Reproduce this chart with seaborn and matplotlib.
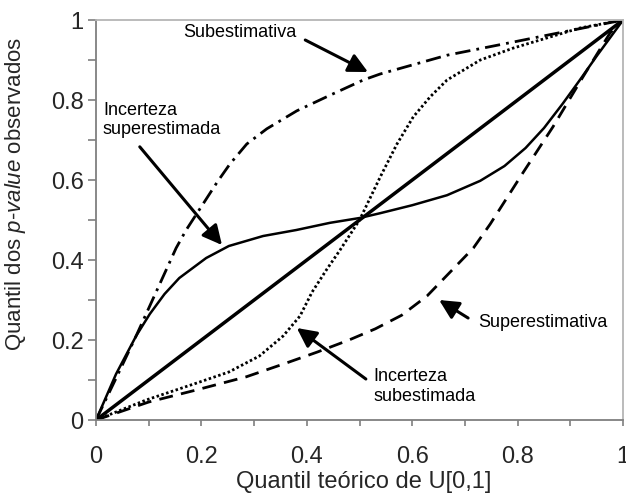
import matplotlib
matplotlib.use("Agg")
import matplotlib.pyplot as plt
import seaborn as sns
import numpy as np

# ---- data ----
diag_x = [0.0, 1.0]
diag_y = [0.0, 1.0]

sub_x = [0.0, 0.04, 0.076, 0.114, 0.152, 0.171, 0.203, 0.23, 0.254, 0.286, 0.324, 0.381, 0.444, 0.507, 0.539, 0.666, 0.792, 0.886, 1.0]
sub_y = [0.0, 0.11, 0.21, 0.32, 0.43, 0.475, 0.54, 0.595, 0.64, 0.69, 0.728, 0.773, 0.812, 0.85, 0.865, 0.912, 0.945, 0.97, 1.0]

sup_x = [0.0, 0.1, 0.19, 0.285, 0.36, 0.42, 0.48, 0.53, 0.58, 0.628, 0.672, 0.716, 0.748, 0.81, 0.867, 0.924, 0.975, 1.0]
sup_y = [0.0, 0.045, 0.075, 0.108, 0.142, 0.17, 0.2, 0.228, 0.262, 0.31, 0.37, 0.43, 0.49, 0.618, 0.733, 0.858, 0.967, 1.0]

isub_x = [0.0, 0.095, 0.19, 0.252, 0.31, 0.355, 0.387, 0.41, 0.437, 0.463, 0.5, 0.539, 0.571, 0.602, 0.634, 0.666, 0.729, 0.792, 0.855, 0.918, 1.0]
isub_y = [0.0, 0.05, 0.092, 0.12, 0.16, 0.21, 0.26, 0.32, 0.375, 0.425, 0.5, 0.607, 0.69, 0.758, 0.808, 0.85, 0.9, 0.93, 0.955, 0.98, 1.0]

isup_x = [0.0, 0.038, 0.076, 0.102, 0.13, 0.158, 0.209, 0.252, 0.317, 0.38, 0.444, 0.5, 0.539, 0.6, 0.666, 0.729, 0.775, 0.815, 0.85, 0.885, 0.918, 0.95, 0.975, 1.0]
isup_y = [0.0, 0.115, 0.21, 0.265, 0.315, 0.355, 0.405, 0.435, 0.46, 0.475, 0.493, 0.505, 0.517, 0.537, 0.562, 0.598, 0.635, 0.68, 0.73, 0.79, 0.85, 0.91, 0.955, 1.0]

ticks = [0, 0.2, 0.4, 0.6, 0.8, 1]
tick_labels = ["0", "0.2", "0.4", "0.6", "0.8", "1"]

xlabel = "Quantil teórico de U[0,1]"
ylabel = "Quantil dos $p$-$value$ observados"

ann_text = ["Subestimativa", "Incerteza\nsuperestimada", "Superestimativa", "Incerteza\nsubestimada"]

sns.set_theme(style="white")
plt.rcParams["font.family"] = ["Liberation Sans", "DejaVu Sans"]
plt.rcParams["mathtext.fontset"] = "custom"
plt.rcParams["mathtext.it"] = "Liberation Sans:italic"
plt.rcParams["mathtext.rm"] = "Liberation Sans"

fig = plt.figure(figsize=(6.26, 4.98), dpi=100)
ax = fig.add_axes([0.1534, 0.1566, 0.8419, 0.8032])

kw = dict(ax=ax, color="black", sort=False, estimator=None, legend=False)
sns.lineplot(x=diag_x, y=diag_y, lw=2.5, **kw)
sns.lineplot(x=isup_x, y=isup_y, lw=1.8, **kw)
sns.lineplot(x=sub_x, y=sub_y, lw=2.0, linestyle=(0, (5.5, 2.2, 1.0, 2.2)), **kw)
sns.lineplot(x=sup_x, y=sup_y, lw=2.0, linestyle=(0, (5.0, 3.0)), **kw)
sns.lineplot(x=isub_x, y=isub_y, lw=2.0, linestyle=(0, (0.9, 0.9)), **kw)

ax.set_xlim(0, 1)
ax.set_ylim(0, 1)
ax.set_xticks(ticks)
ax.set_xticklabels(tick_labels)
ax.set_yticks(ticks)
ax.set_yticklabels(tick_labels)
ax.set_xticks(np.arange(0.1, 1.0, 0.2), minor=True)
ax.set_yticks(np.arange(0.1, 1.0, 0.2), minor=True)

ax.tick_params(axis="x", which="both", direction="out", length=4, width=1.2,
               color="#7f7f7f", bottom=True, pad=15, labelsize=17)
ax.tick_params(axis="y", which="both", direction="out", length=6, width=1.2,
               color="#7f7f7f", left=True, pad=3, labelsize=17)

for s in ["left", "bottom"]:
    ax.spines[s].set_color("#7f7f7f")
    ax.spines[s].set_linewidth(1.3)
for s in ["top", "right"]:
    ax.spines[s].set_color("#b5b5b5")
    ax.spines[s].set_linewidth(1.3)

ax.set_xlabel(xlabel, fontsize=17)
ax.set_ylabel(ylabel, fontsize=16)
ax.xaxis.set_label_coords(0.508, -0.128)
ax.yaxis.set_label_coords(-0.13, 0.565)

text_pos = [(0.273, 0.97), (0.013, 0.75), (0.725, 0.243), (0.527, 0.084)]
text_ha = ["center", "left", "left", "left"]
tails = [(0.397, 0.95), (0.083, 0.683), (0.706, 0.255), (0.512, 0.1025)]
tips = [(0.516, 0.87), (0.239, 0.4375), (0.651, 0.30), (0.381, 0.23)]

for t, p, ha, a, b in zip(ann_text, text_pos, text_ha, tails, tips):
    ax.text(p[0], p[1], t, ha=ha, va="center", fontsize=13, color="black", linespacing=1.2)
    ax.annotate("", xy=b, xytext=a,
                arrowprops=dict(arrowstyle="-|>,head_length=0.9,head_width=0.45",
                                lw=2.2, color="black", shrinkA=0, shrinkB=0,
                                mutation_scale=13))

fig.savefig("out.png", dpi=100)
